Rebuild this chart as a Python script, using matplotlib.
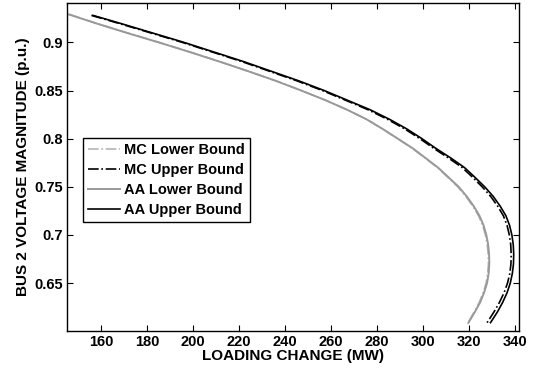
import numpy as np
import matplotlib.pyplot as plt

plt.rcParams['font.family'] = ['Liberation Sans', 'DejaVu Sans']
plt.rcParams['font.weight'] = 'bold'

# --- curvas PV (voltaje p.u., carga MW) ---
v_upper = [0.928, 0.92, 0.91, 0.90, 0.89, 0.88, 0.87, 0.86, 0.85, 0.84, 0.83,
           0.82, 0.81, 0.80, 0.79, 0.78, 0.77, 0.76, 0.75, 0.74, 0.73, 0.72,
           0.71, 0.70, 0.69, 0.68, 0.67, 0.66, 0.65, 0.64, 0.63, 0.62, 0.61, 0.609]
p_aa_upper = [156.5, 168, 182, 196, 209, 222, 234, 246, 257, 267, 277,
              285.5, 293, 299.5, 305.5, 312, 318, 322.5, 326.8, 330.5, 333.5, 336,
              337.6, 338.6, 339.2, 339.4, 339.3, 338.8, 337.9, 336.5, 334.6, 332.3, 329.6, 329.3]
p_mc_upper = [155.8, 167.3, 181.3, 195.3, 208.3, 221.3, 233.2, 245.2, 256.2, 266.2, 276.1,
              284.6, 292.1, 298.6, 304.6, 311, 317, 321.5, 325.7, 329.4, 332.4, 334.9,
              336.5, 337.5, 338.1, 338.3, 338.2, 337.7, 336.7, 335.2, 333.2, 330.8, 328.1, 327.8]

v_lower = [0.929, 0.92, 0.91, 0.90, 0.89, 0.88, 0.87, 0.86, 0.85, 0.84, 0.83,
           0.82, 0.81, 0.80, 0.79, 0.78, 0.77, 0.76, 0.75, 0.74, 0.73, 0.72,
           0.71, 0.70, 0.69, 0.68, 0.67, 0.66, 0.65, 0.64, 0.63, 0.62, 0.61, 0.6087]
p_aa_lower = [146, 157.5, 171, 185, 198.5, 211.5, 224, 236, 247, 257.5, 267,
              275.5, 282.5, 289, 295.5, 301, 306.5, 311, 315.5, 319, 322, 324.5,
              326.3, 327.5, 328.3, 328.7, 328.8, 328.5, 327.8, 326.5, 324.8, 322.5, 320, 319.7]
p_mc_lower = [146.3, 157.7, 171.2, 185.2, 198.7, 211.7, 224.1, 236.1, 247.1, 257.5, 267,
              275.5, 282.4, 288.9, 295.3, 300.8, 306.2, 310.7, 315.1, 318.6, 321.6, 324.1,
              325.9, 327.1, 327.9, 328.3, 328.4, 328.1, 327.4, 326.1, 324.4, 322.2, 319.8, 319.6]

fig = plt.figure(figsize=(5.43, 3.72), dpi=100)
ax = fig.add_axes([0.1234, 0.1102, 0.8324, 0.8808])

ax.plot(p_mc_lower, v_lower, color='#b4b4b4', lw=1.2, ls='-.', label='MC Lower Bound')
ax.plot(p_mc_upper, v_upper, color='black', lw=1.2, ls='-.', label='MC Upper Bound')
ax.plot(p_aa_lower, v_lower, color='#999999', lw=1.4, ls='-', label='AA Lower Bound')
ax.plot(p_aa_upper, v_upper, color='black', lw=1.2, ls='-', label='AA Upper Bound')

ax.set_xlim(145.2, 341.7)
ax.set_ylim(0.6003, 0.9405)
ax.set_xticks(np.arange(160, 341, 20))
ax.set_yticks([0.65, 0.7, 0.75, 0.8, 0.85, 0.9])
ax.set_yticklabels(['0.65', '0.7', '0.75', '0.8', '0.85', '0.9'])
ax.tick_params(direction='in', top=True, right=True, length=4, width=0.8,
               labelsize=10.5, pad=3)
for s in ax.spines.values():
    s.set_linewidth(1.0)

ax.set_xlabel('LOADING CHANGE (MW)', fontsize=11, fontweight='bold', labelpad=0)
ax.set_ylabel('BUS 2 VOLTAGE MAGNITUDE (p.u.)', fontsize=11, fontweight='bold', labelpad=3)

leg = ax.legend(loc='upper left', bbox_to_anchor=(0.035, 0.59), fancybox=False,
                edgecolor='black', framealpha=1, fontsize=10.5, handlelength=2.2,
                handletextpad=0.3, borderpad=0.35, labelspacing=0.42, borderaxespad=0)
leg.get_frame().set_linewidth(1.0)

plt.savefig('out.png', dpi=100)
